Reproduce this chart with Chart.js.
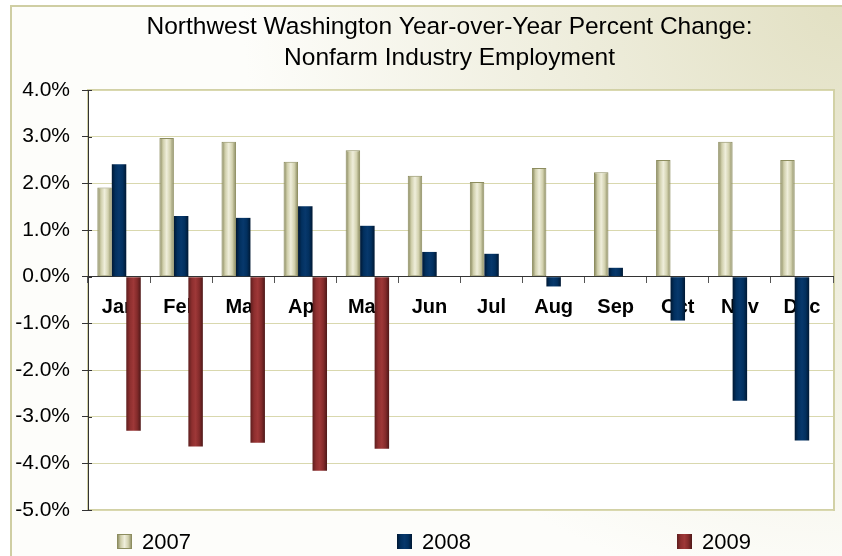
<!DOCTYPE html>
<html>
<head>
<meta charset="utf-8">
<script src="https://cdn.jsdelivr.net/npm/chart.js@4.4.1/dist/chart.umd.min.js"></script>
<style>
html,body{margin:0;padding:0;background:#fff;}
#wrap{width:842px;height:556px;position:relative;}
</style>
</head>
<body>
<div id="wrap"><canvas id="c" width="842" height="556"></canvas></div>
<script>
// ---- data ----
const months = ['Jan','Feb','Mar','Apr','May','Jun','Jul','Aug','Sep','Oct','Nov','Dec'];
const seriesNames = ['2007','2008','2009'];
const values2007 = [1.91, 2.97, 2.89, 2.46, 2.71, 2.16, 2.03, 2.33, 2.24, 2.50, 2.89, 2.50];
const values2008 = [2.41, 1.30, 1.26, 1.51, 1.09, 0.53, 0.49, -0.21, 0.19, -0.94, -2.66, -3.51];
const values2009 = [-3.30, -3.64, -3.56, -4.16, -3.69, null, null, null, null, null, null, null];
const titleLines = ['Northwest Washington Year-over-Year Percent Change:', 'Nonfarm Industry Employment'];
const yMin = -5, yMax = 4, yStep = 1;

// ---- styles ----
const FONT = "'Liberation Sans', Arial, Helvetica, sans-serif";
const palettes = [
  ['#7f7f54', '#cfceaa', '#efeedb', '#d2d1ae', '#85855a'],
  ['#001833', '#02305f', '#07386c', '#02305f', '#001833'],
  ['#5e1e1e', '#8e2f2f', '#9e3838', '#842b2b', '#4e1818']
];
const borderCols = ['#8d8d5f', null, null];

function makeGrad(ctx, x0, x1, pal) {
  const g = ctx.createLinearGradient(x0, 0, x1, 0);
  const n = pal.length;
  pal.forEach((c, i) => g.addColorStop(i / (n - 1), c));
  return g;
}

const bgPlugin = {
  id: 'bgPlugin',
  afterLayout(chart) {
    // title box centred on the outer frame, as in the original
    if (chart.titleBlock) {
      chart.titleBlock.left += 28;
      chart.titleBlock.right += 28;
    }
  },
  beforeDraw(chart) {
    const ctx = chart.ctx, W = chart.width, H = chart.height, a = chart.chartArea;
    ctx.save();
    ctx.fillStyle = '#ffffff';
    ctx.fillRect(0, 0, W, H);
    const rg = ctx.createRadialGradient(W, 0, 0, W, 0, 600);
    rg.addColorStop(0, '#e2e0c3');
    rg.addColorStop(0.45, '#eeeddc');
    rg.addColorStop(1, '#fdfdfa');
    ctx.fillStyle = rg;
    ctx.fillRect(10, 6, W, H);
    ctx.strokeStyle = '#cfcea3';
    ctx.lineWidth = 2;
    ctx.beginPath();
    ctx.moveTo(11, H + 5); ctx.lineTo(11, 6); ctx.lineTo(W + 5, 6);
    ctx.stroke();
    // plot area
    ctx.fillStyle = '#ffffff';
    ctx.fillRect(a.left, a.top, a.right - a.left, a.bottom - a.top);
    ctx.strokeStyle = '#d2d1a6';
    ctx.lineWidth = 2;
    ctx.strokeRect(a.left, a.top, a.right - a.left + 1, a.bottom - a.top);
    ctx.restore();
  },
  beforeDatasetsDraw(chart) {
    const ctx = chart.ctx;
    chart.data.datasets.forEach((ds, i) => {
      const meta = chart.getDatasetMeta(i);
      meta.data.forEach(bar => {
        const p = bar.getProps(['x', 'width'], true);
        const g = makeGrad(ctx, p.x - p.width / 2, p.x + p.width / 2, palettes[i]);
        bar.options = Object.assign({}, bar.options, { backgroundColor: g });
      });
    });
  },
  afterDraw(chart) {
    const ctx = chart.ctx, a = chart.chartArea, ys = chart.scales.y;
    ctx.save();
    // y tick marks cross the axis line slightly
    ctx.strokeStyle = '#333';
    ctx.lineWidth = 1;
    ys.ticks.forEach(t => {
      const py = Math.round(ys.getPixelForValue(t.value)) + 0.5;
      ctx.beginPath(); ctx.moveTo(a.left, py); ctx.lineTo(a.left + 4, py); ctx.stroke();
    });
    // legend
    ctx.font = '22px ' + FONT;
    ctx.textBaseline = 'middle';
    chart.data.datasets.forEach((ds, i) => {
      const x = 117 + i * 280, y = 534, s = 15;
      ctx.fillStyle = makeGrad(ctx, x, x + s, palettes[i]);
      ctx.fillRect(x, y, s, s);
      if (borderCols[i]) {
        ctx.strokeStyle = borderCols[i];
        ctx.lineWidth = 1;
        ctx.strokeRect(x + 0.5, y + 0.5, s - 1, s - 1);
      }
      ctx.fillStyle = '#000';
      ctx.fillText(ds.label, x + 25, y + s / 2 + 1);
    });
    ctx.restore();
  }
};

Chart.defaults.font.family = FONT;
Chart.defaults.color = '#000';

new Chart(document.getElementById('c'), {
  type: 'bar',
  data: {
    labels: months,
    datasets: [
      { label: seriesNames[0], data: values2007, backgroundColor: '#dcdbbd', borderColor: borderCols[0], borderWidth: 1, borderSkipped: false },
      { label: seriesNames[1], data: values2008, backgroundColor: '#02305f', borderWidth: 0 },
      { label: seriesNames[2], data: values2009, backgroundColor: '#8e2f2f', borderWidth: 0 }
    ]
  },
  options: {
    responsive: false,
    animation: false,
    devicePixelRatio: 1,
    categoryPercentage: 0.7,
    barPercentage: 1.0,
    layout: { padding: { left: 10, right: 9, top: 0, bottom: 46 } },
    plugins: {
      legend: { display: false },
      tooltip: { enabled: false },
      title: {
        display: true,
        text: titleLines,
        color: '#000',
        font: { size: 24.5, weight: 'normal', family: FONT, lineHeight: 31 / 24.5 },
        padding: { top: 11.5, bottom: 16.5 }
      }
    },
    scales: {
      x: {
        type: 'category',
        position: { y: 0 },
        z: 1,
        grid: { drawOnChartArea: false, drawTicks: true, tickLength: 6, tickColor: '#555', offset: true },
        border: { color: '#333', width: 1 },
        ticks: { font: { size: 20, weight: 'bold', family: FONT }, color: '#000', padding: 13, maxRotation: 0, autoSkip: false }
      },
      y: {
        min: yMin, max: yMax,
        afterFit(scale) { scale.width = 78; },
        grid: { color: '#d9d8ae', tickColor: '#333', tickLength: 6 },
        border: { color: '#333', width: 1 },
        ticks: {
          stepSize: yStep,
          padding: 12,
          color: '#000',
          font: { size: 21, family: FONT },
          callback: v => v.toFixed(1) + '%'
        }
      }
    }
  },
  plugins: [bgPlugin]
});
</script>
</body>
</html>
